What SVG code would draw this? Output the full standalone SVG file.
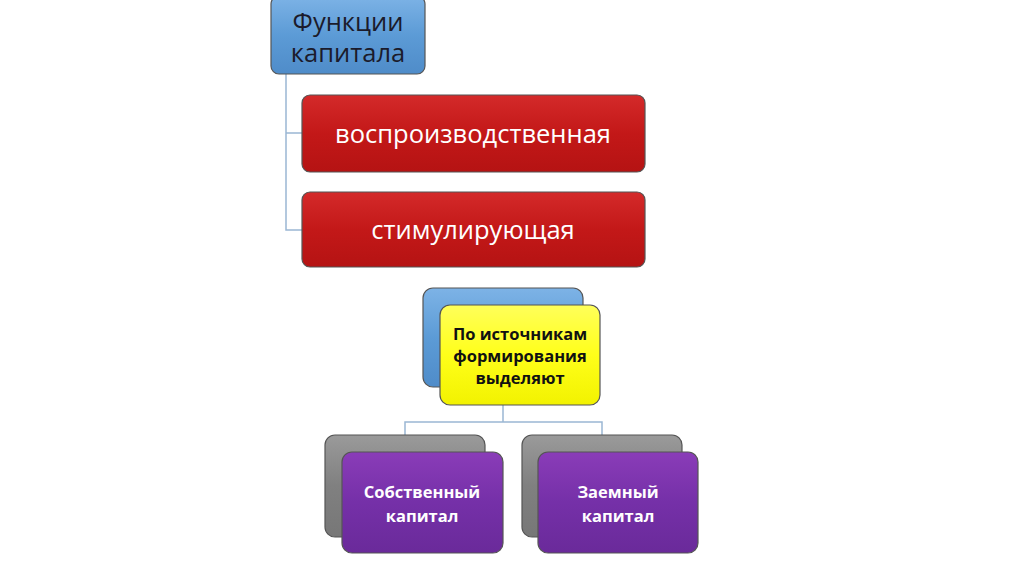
<svg xmlns="http://www.w3.org/2000/svg" width="1024" height="574" viewBox="0 0 1024 574">
<defs>
<linearGradient id="gBlue" x1="0" y1="0" x2="0" y2="1"><stop offset="0" stop-color="#7db3e6"/><stop offset="0.5" stop-color="#5c9bd6"/><stop offset="1" stop-color="#4f8cc9"/></linearGradient>
<linearGradient id="gRed" x1="0" y1="0" x2="0" y2="1"><stop offset="0" stop-color="#d42a2a"/><stop offset="0.5" stop-color="#c31818"/><stop offset="1" stop-color="#b51313"/></linearGradient>
<linearGradient id="gYel" x1="0" y1="0" x2="0" y2="1"><stop offset="0" stop-color="#ffff5a"/><stop offset="0.5" stop-color="#ffff1a"/><stop offset="1" stop-color="#f2f200"/></linearGradient>
<linearGradient id="gPur" x1="0" y1="0" x2="0" y2="1"><stop offset="0" stop-color="#8a3cb8"/><stop offset="0.5" stop-color="#7530a8"/><stop offset="1" stop-color="#6a2a9a"/></linearGradient>
<linearGradient id="gGray" x1="0" y1="0" x2="0" y2="1"><stop offset="0" stop-color="#9a9a9a"/><stop offset="0.5" stop-color="#808080"/><stop offset="1" stop-color="#777777"/></linearGradient>
</defs>
<style>
.box{stroke:#555555;stroke-width:1.2}
.blue{fill:url(#gBlue)}
.red{fill:url(#gRed)}
.yel{fill:url(#gYel)}
.pur{fill:url(#gPur)}
.gray{fill:url(#gGray)}
.conn{fill:none;stroke:#9bb7d4;stroke-width:1.5}
.t{font-family:"Open Sans","Liberation Sans",sans-serif;text-anchor:middle}
.big{font-size:25.5px}
.bold{font-size:16.5px;font-weight:bold}
</style>
<rect width="1024" height="574" fill="#ffffff"/>
<g id="connectors">
<path class="conn" d="M286 74 V230 H302 M286 133 H302"/>
<path class="conn" d="M503 390 V422 M405 435 V422 H602 V435"/>
</g>
<g id="n-functions">
<rect class="box blue" x="271" y="-4" width="154" height="78" rx="8"/>
<text class="t big" x="348" y="31" fill="#1b1b2b">Функции</text>
<text class="t big" x="348" y="62" fill="#1b1b2b">капитала</text>
</g>
<g id="n-reprod">
<rect class="box red" x="302" y="95" width="343" height="77" rx="8"/>
<text class="t big" x="473" y="143" fill="#ffffff">воспроизводственная</text>
</g>
<g id="n-stim">
<rect class="box red" x="302" y="192" width="343" height="75" rx="8"/>
<text class="t big" x="473" y="239" fill="#ffffff">стимулирующая</text>
</g>
<g id="n-sources">
<rect class="box blue" x="423" y="288" width="160" height="99" rx="10"/>
<rect class="box yel" x="440" y="305" width="160" height="100" rx="10"/>
<text class="t bold" x="520" y="340" fill="#111111">По источникам</text>
<text class="t bold" x="520" y="362" fill="#111111">формирования</text>
<text class="t bold" x="520" y="384" fill="#111111">выделяют</text>
</g>
<g id="n-own">
<rect class="box gray" x="325" y="435" width="160" height="102" rx="10"/>
<rect class="box pur" x="342" y="452" width="161" height="101" rx="10"/>
<text class="t bold" x="422" y="498" fill="#ffffff">Собственный</text>
<text class="t bold" x="422" y="522" fill="#ffffff">капитал</text>
</g>
<g id="n-borrowed">
<rect class="box gray" x="522" y="435" width="160" height="102" rx="10"/>
<rect class="box pur" x="538" y="452" width="160" height="101" rx="10"/>
<text class="t bold" x="618" y="498" fill="#ffffff">Заемный</text>
<text class="t bold" x="618" y="522" fill="#ffffff">капитал</text>
</g>
</svg>
